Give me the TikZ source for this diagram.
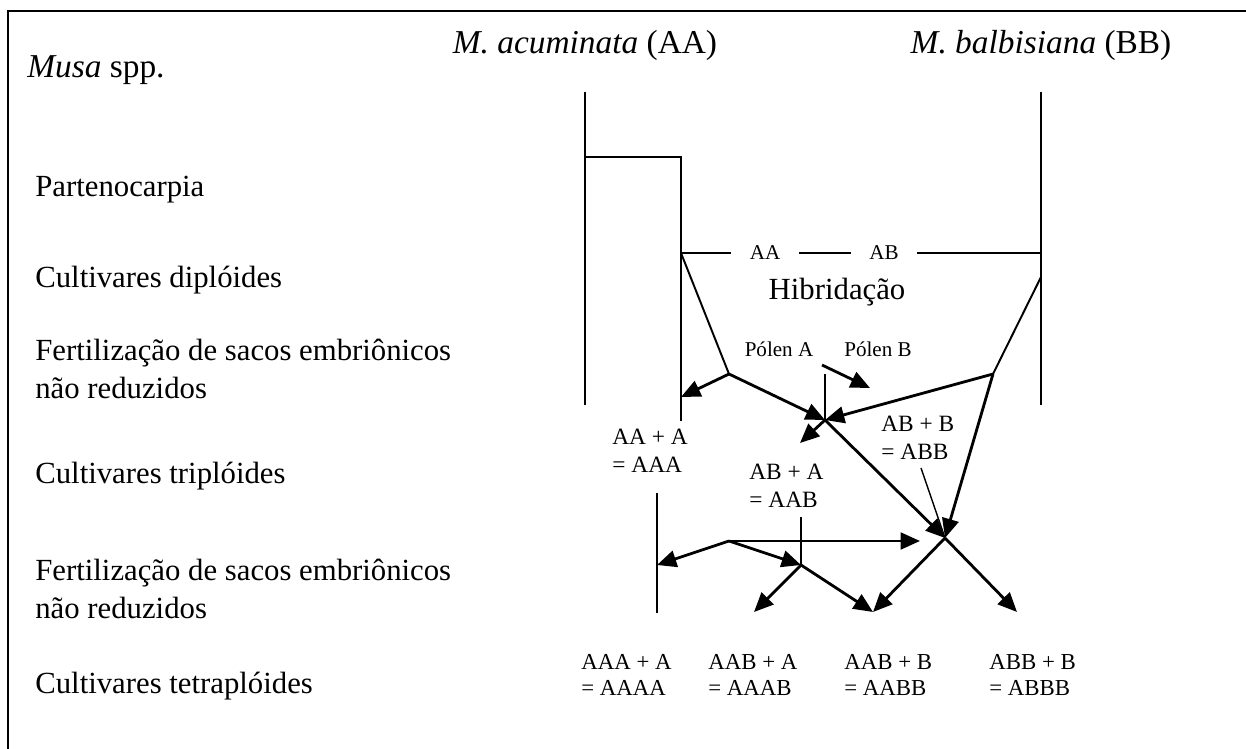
\documentclass[tikz,border=0pt]{standalone}
\usepackage{fontspec}
\setmainfont{Liberation Serif}
\usetikzlibrary{arrows.meta}
\begin{document}
\begin{tikzpicture}[x=0.02cm,y=-0.02cm]
\tikzset{
    part/.style={line width=1.1pt, color=black},
    partA/.style={line width=1.6pt, color=black, -{Triangle[length=11pt,width=9.5pt]}},
    partT/.style={line width=0.8pt, color=black},
    big/.style={font=\fontsize{17.5}{22}\selectfont, inner sep=0pt},
    title/.style={font=\fontsize{19}{22}\selectfont, inner sep=0pt},
    row/.style={big, anchor=west, align=left},
    cross/.style={font=\fontsize{13.3}{15.8}\selectfont, inner sep=0pt, anchor=west, align=left},
    gam/.style={font=\fontsize{12}{14}\selectfont, inner ysep=0pt, inner xsep=10.5pt},
    tetra/.style={font=\fontsize{13}{15.2}\selectfont, inner sep=0pt, anchor=west, align=left}}
\useasboundingbox (0,0) rectangle (1246,749);

% frame
\draw[part] (8,749) -- (8,11) -- (1246,11);

% rows
\node[title, anchor=west] (musa) at (27,70) {\textit{Musa} spp.};
\node[row] (parteno) at (35,190) {Partenocarpia};
\node[row] (diplo) at (35,280) {Cultivares diplóides};
\node[row] (fert1) at (35,369) {Fertilização de sacos embriônicos\\não reduzidos};
\node[row] (triplo) at (35,476) {Cultivares triplóides};
\node[row] (fert2) at (35,589) {Fertilização de sacos embriônicos\\não reduzidos};
\node[row] (tetraplo) at (35,686) {Cultivares tetraplóides};

% species
\node[title] (acum) at (585,45) {\textit{M. acuminata} (AA)};
\node[title] (balb) at (1041,45) {\textit{M. balbisiana} (BB)};

\path (585,92)coordinate(acTop);
\path (585,157)coordinate(acStep);
\path (585,405)coordinate(acBot);
\path (681,157)coordinate(pcTop);
\path (681,253)coordinate(hybA);
\path (681,421)coordinate(pcBot);
\path (1041,92)coordinate(bbTop);
\path (1041,253)coordinate(hybB);
\path (1041,277)coordinate(bbKnee);
\path (1041,405)coordinate(bbBot);

\draw[part] (acTop) -- (acBot);
\draw[part] (acStep) -- (pcTop) -- (pcBot);
\draw[part] (bbTop) -- (bbBot);

% hybridisation
\node[gam] (gAA) at (765,253) {AA};
\node[gam] (gAB) at (884,253) {AB};
\draw[part] (hybA) -- (gAA) -- (gAB) -- (hybB);
\node[big] (hyb) at (837,292) {Hibridação};

% pollen
\node[gam, inner xsep=0pt] (polA) at (779,349) {Pólen A};
\node[gam, inner xsep=0pt] (polB) at (878,349) {Pólen B};

\path (729,374)coordinate(kA);
\path (993,374)coordinate(kB);
\path (825,374)coordinate(stemX);
\path (825,420)coordinate(X1);
\path (681,397)coordinate(tA);
\path (822,365)coordinate(pB1);
\path (870,388)coordinate(pB2);
\path (800,443)coordinate(tAAB);
\path (945,538)coordinate(X2);
\path (921,468)coordinate(lnABB);

\draw[part] (hybA) -- (kA);
\draw[part] (bbKnee) -- (kB);
\draw[part] (stemX) -- (X1);
\draw[partA] (kA) -- (tA);
\draw[partA] (kA) -- (X1);
\draw[partA] (kB) -- (X1);
\draw[partA] (pB1) -- (pB2);
\draw[partA] (X1) -- (tAAB);
\draw[partA] (X1) -- (X2);
\draw[partA] (kB) -- (X2);
\draw[partT] (lnABB) -- (X2);

% triploids
\node[cross] (AAA) at (612,451) {AA + A\\= AAA};
\node[cross] (AAB) at (749,486) {AB + A\\= AAB};
\node[cross] (ABB) at (881,438) {AB + B\\= ABB};

\path (657,493)coordinate(s4Top);
\path (657,565)coordinate(s4Mid);
\path (657,613)coordinate(s4Bot);
\path (729,541)coordinate(k3);
\path (920,541)coordinate(t3);
\path (801,517)coordinate(c4Top);
\path (801,565)coordinate(c4);
\path (754,612)coordinate(tAAAB);
\path (873,612)coordinate(tAABB);
\path (1017,612)coordinate(tABBB);

\draw[part] (s4Top) -- (s4Bot);
\draw[part] (c4Top) -- (c4);
\draw[partA] (k3) -- (s4Mid);
\draw[partA] (k3) -- (t3);
\draw[partA] (k3) -- (c4);
\draw[partA] (c4) -- (tAAAB);
\draw[partA] (c4) -- (tAABB);
\draw[partA] (X2) -- (tAABB);
\draw[partA] (X2) -- (tABBB);

% tetraploids
\node[tetra] (AAAA) at (581,675) {AAA + A\\= AAAA};
\node[tetra] (AAAB) at (708,675) {AAB + A\\= AAAB};
\node[tetra] (AABB) at (844,675) {AAB + B\\= AABB};
\node[tetra] (ABBB) at (989,675) {ABB + B\\= ABBB};

\end{tikzpicture}
\end{document}
